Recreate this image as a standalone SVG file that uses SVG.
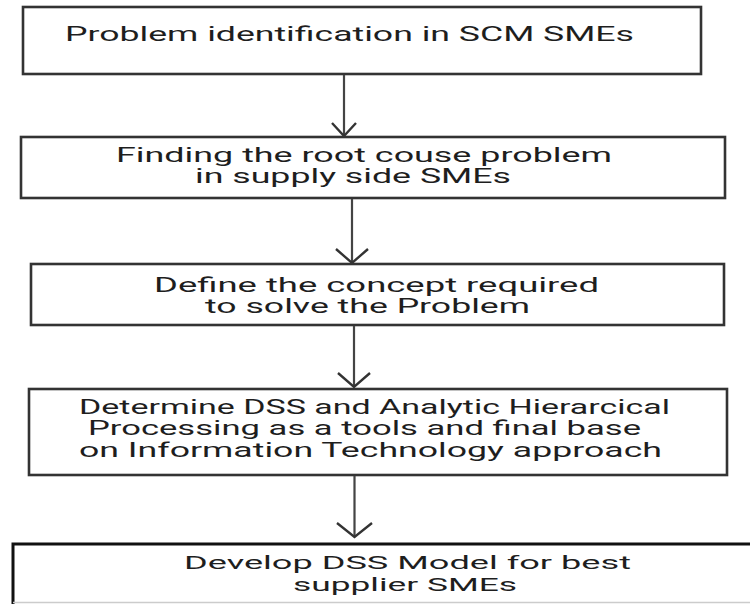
<svg xmlns="http://www.w3.org/2000/svg" width="750" height="604" viewBox="0 0 750 604">
  <style>
    .box { fill: #ffffff; stroke: #333333; stroke-width: 2.6; }
    .box-last { fill: #ffffff; stroke: #111111; stroke-width: 3; }
    .label { font-family: Roboto, "Liberation Sans", Arial, sans-serif; font-size: 19.5px; fill: #1e1e1e; }
    .shaft { fill: none; stroke: #444444; stroke-width: 2.2; }
    .head { fill: none; stroke: #333333; stroke-width: 2.4; stroke-linejoin: miter; }
  </style>
  <rect width="750" height="604" fill="#ffffff"/>

  <!-- process steps, top to bottom -->
  <g id="step-1">
    <rect class="box" x="23" y="7" width="678" height="67"/>
    <text class="label" x="65" y="41" style="font-size:20px" textLength="569" lengthAdjust="spacingAndGlyphs">Problem identification in SCM SMEs</text>
  </g>

  <g id="step-2">
    <rect class="box" x="21" y="137" width="704" height="61"/>
    <text class="label" x="116" y="162" textLength="496" lengthAdjust="spacingAndGlyphs">Finding the root couse problem</text>
    <text class="label" x="195" y="183" textLength="316" lengthAdjust="spacingAndGlyphs">in supply side SMEs</text>
  </g>

  <g id="step-3">
    <rect class="box" x="31" y="264" width="693" height="61"/>
    <text class="label" x="154" y="291.5" textLength="445" lengthAdjust="spacingAndGlyphs">Define the concept required</text>
    <text class="label" x="205" y="312.5" textLength="325" lengthAdjust="spacingAndGlyphs">to solve the Problem</text>
  </g>

  <g id="step-4">
    <rect class="box" x="29" y="389" width="698" height="86"/>
    <text class="label" x="79" y="414" textLength="591" lengthAdjust="spacingAndGlyphs">Determine DSS and Analytic Hierarcical</text>
    <text class="label" x="88" y="435" textLength="553" lengthAdjust="spacingAndGlyphs">Processing as a tools and final base</text>
    <text class="label" x="79" y="456.5" textLength="583" lengthAdjust="spacingAndGlyphs">on Information Technology approach</text>
  </g>

  <g id="step-5">
    <rect class="box-last" x="13" y="544" width="760" height="70"/>
    <line x1="13" y1="602.5" x2="750" y2="602.5" stroke="#cccccc" stroke-width="1.5"/>
    <text class="label" x="184" y="569" style="font-size:18.5px" textLength="447" lengthAdjust="spacingAndGlyphs">Develop DSS Model for best</text>
    <text class="label" x="293" y="591" style="font-size:18.5px" textLength="224" lengthAdjust="spacingAndGlyphs">supplier SMEs</text>
  </g>

  <!-- connectors: straight shafts with open V heads -->
  <g id="connectors">
    <line class="shaft" x1="344" y1="75" x2="344" y2="136"/>
    <path class="head" d="M332,123 L344,136 L356,123"/>

    <line class="shaft" x1="352" y1="199" x2="352" y2="263"/>
    <path class="head" d="M336,249 L352,263 L368,249"/>

    <line class="shaft" x1="354" y1="326" x2="354" y2="387"/>
    <path class="head" d="M338,373 L354,387 L370,373"/>

    <line class="shaft" x1="354.5" y1="476" x2="354.5" y2="537"/>
    <path class="head" d="M337,523 L354.5,537 L372,523"/>
  </g>
</svg>
